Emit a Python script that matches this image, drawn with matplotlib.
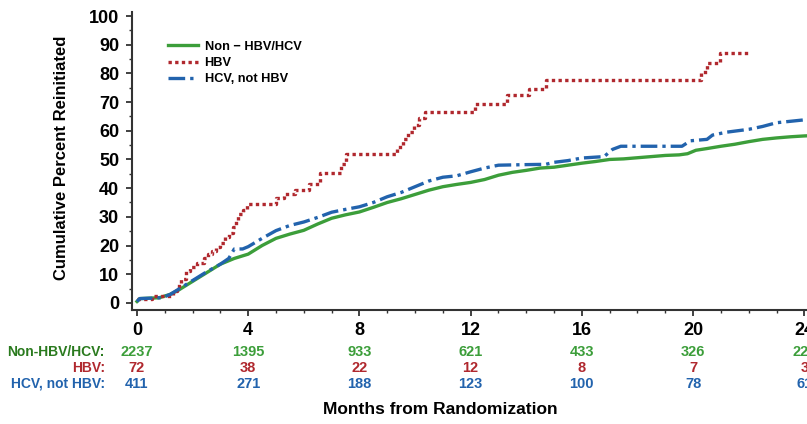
import matplotlib
matplotlib.use("Agg")
import matplotlib.pyplot as plt
from matplotlib.transforms import blended_transform_factory
from matplotlib.ticker import MultipleLocator

plt.rcParams['font.family'] = ['Liberation Sans', 'DejaVu Sans']
plt.rcParams['font.weight'] = 'bold'

# Non-HBV/HCV curve (months, cumulative %)
non_t = [0, 0.1, 0.8, 1.2, 1.5, 2, 2.5, 3, 3.5, 4, 4.5, 5, 5.5, 6, 6.5, 7, 7.5, 8, 8.5, 9,
         9.5, 10, 10.5, 11, 11.5, 12, 12.5, 13, 13.5, 14, 14.5, 15, 15.5, 16, 16.5, 17,
         17.5, 18, 18.5, 19, 19.5, 19.8, 20.1, 20.5, 21, 21.5, 22, 22.5, 23, 23.5, 24, 24.5]
non_v = [0.5, 1.5, 1.8, 3, 4.5, 7.5, 10.5, 13.5, 15.5, 17, 20, 22.5, 24, 25.3, 27.5, 29.5,
         30.7, 31.7, 33.3, 35, 36.3, 37.8, 39.3, 40.5, 41.3, 42, 43, 44.5, 45.5, 46.2, 47,
         47.3, 48, 48.7, 49.3, 50, 50.2, 50.6, 51, 51.4, 51.6, 52, 53.2, 53.8, 54.6, 55.3,
         56.2, 57, 57.5, 57.9, 58.2, 58.4]

# HBV curve (step function)
hbv_t = [0, 0.55, 1.3, 1.45, 1.6, 1.75, 1.9, 2.15, 2.4, 2.55, 2.7, 2.85, 3.0, 3.15, 3.3,
         3.45, 3.55, 3.65, 3.8, 3.95, 5.0, 5.3, 5.7, 6.2, 6.6, 7.35, 7.5, 9.35, 9.55, 9.75,
         9.95, 10.15, 10.35, 12.15, 13.3, 14.1, 14.7, 20.3, 20.5, 20.95, 22.1]
hbv_v = [1.5, 2.5, 4, 6, 8.5, 11, 12.5, 14, 15.5, 17, 18, 19.5, 21, 23, 24.5, 26.5, 28.5,
         31, 32.5, 34.5, 36.5, 38, 39.5, 41.5, 45.3, 48.5, 51.8, 54.5, 57, 59.5, 62, 64.5,
         66.5, 69.5, 72.3, 74.7, 77.8, 80.5, 83.5, 87.2, 87.2]

# HCV, not HBV curve
hcv_t = [0, 0.1, 0.9, 1.2, 1.5, 2, 2.5, 3, 3.3, 3.5, 3.8, 4, 4.5, 5, 5.5, 6, 6.5, 7, 7.5,
         8, 8.5, 9, 9.5, 10, 10.5, 11, 11.5, 12, 12.5, 13, 14, 14.7, 15, 15.5, 16, 16.8,
         17.1, 17.4, 19.6, 19.9, 20.5, 20.7, 21.2, 22, 22.5, 23, 23.5, 24, 24.5]
hcv_v = [0.5, 1.5, 1.8, 3, 4.8, 7.8, 10.8, 13.5, 15.5, 18.8, 18.8, 19.6, 22.5, 25.2, 27,
         28.2, 29.8, 31.6, 32.6, 33.5, 35, 37, 38.5, 40.5, 42.5, 43.8, 44.3, 45.7, 47, 48,
         48.2, 48.3, 49, 49.6, 50.5, 51, 53.5, 54.6, 54.6, 56.5, 57, 58.5, 59.5, 60.5, 61.5,
         62.8, 63.3, 63.8, 64]

# number at risk
risk_months = [0, 4, 8, 12, 16, 20, 24]
risk_non = ['2237', '1395', '933', '621', '433', '326', '220']
risk_hbv = ['72', '38', '22', '12', '8', '7', '3']
risk_hcv = ['411', '271', '188', '123', '100', '78', '61']

c_non = '#3c9e3a'
c_hbv = '#b0282e'
c_hcv = '#2263ad'

fig = plt.figure(figsize=(8.07, 4.24), dpi=100)
ax = fig.add_axes([131.7 / 807, 1 - 309.5 / 424, (821 - 131.7) / 807, (309.5 - 11.7) / 424])

ax.plot(non_t, non_v, color=c_non, lw=2.4, label='Non \u2212 HBV/HCV')
ax.plot(hbv_t, hbv_v, color=c_hbv, lw=2.4, drawstyle='steps-post',
        linestyle=(0, (1, 1)), label='HBV')
ax.plot(hcv_t, hcv_v, color=c_hcv, lw=2.4, linestyle=(0, (5, 1.5, 1, 1.5)),
        label='HCV, not HBV')

ax.set_xlim(-0.19, 24.6)
ax.set_ylim(-2.3, 101.5)
ax.spines['top'].set_visible(False)
ax.spines['right'].set_visible(False)
for s in ['left', 'bottom']:
    ax.spines[s].set_linewidth(1.5)
    ax.spines[s].set_color('#333333')

ax.set_xticks(risk_months)
ax.xaxis.set_minor_locator(MultipleLocator(1))
ax.set_yticks(range(0, 101, 10))
ax.yaxis.set_minor_locator(MultipleLocator(5))
ax.tick_params(axis='both', which='major', length=4, width=1.3, color='#333333',
               labelsize=13, pad=5)
ax.tick_params(axis='both', which='minor', length=2.5, width=1, color='#333333')
for lab in ax.get_xticklabels() + ax.get_yticklabels():
    lab.set_fontweight('bold')

leg = ax.legend(loc='upper left', bbox_to_anchor=(156 / 807, 1 - 29 / 424),
                bbox_transform=fig.transFigure, frameon=False, fontsize=9.2,
                handlelength=2.4, handletextpad=0.5, labelspacing=0.35)
for t in leg.get_texts():
    t.set_fontweight('bold')

# number-at-risk table
tr = blended_transform_factory(ax.transData, fig.transFigure)
rows = [(risk_non, 'Non-HBV/HCV:', c_non, '#2a7a1e', 352),
        (risk_hbv, 'HBV:', c_hbv, c_hbv, 368),
        (risk_hcv, 'HCV, not HBV:', c_hcv, c_hcv, 384)]
for vals, name, col, lcol, ypx in rows:
    yf = 1 - ypx / 424
    fig.text(105 / 807, yf, name, ha='right', va='center', color=lcol,
             fontsize=10, fontweight='bold')
    for m, v in zip(risk_months, vals):
        ax.text(m, yf, v, transform=tr, ha='center', va='center', color=col,
                fontsize=10.5, fontweight='bold', clip_on=False)

fig.text(440 / 807, 1 - 410 / 424, 'Months from Randomization', ha='center',
         va='center', fontsize=12.5, fontweight='bold')
fig.text(62 / 807, 1 - 158 / 424, 'Cumulative Percent Reinitiated', ha='center',
         va='center', rotation=90, fontsize=12, fontweight='bold')

fig.savefig('out.png', dpi=100)
